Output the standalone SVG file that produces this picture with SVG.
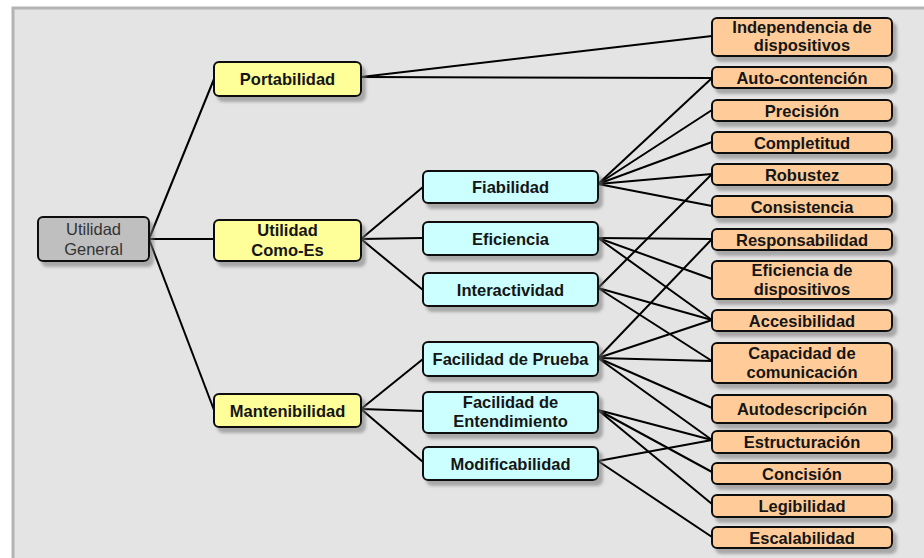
<svg xmlns="http://www.w3.org/2000/svg" width="924" height="558" viewBox="0 0 924 558">
<defs>
<filter id="sh" x="-10%" y="-20%" width="130%" height="160%">
<feDropShadow dx="4" dy="5" stdDeviation="1.5" flood-color="#777" flood-opacity="0.55"/>
</filter>
<style>
.n rect{stroke:#111;stroke-width:2;filter:url(#sh)}
.g rect{fill:#bfbfbf}
.y rect{fill:#ffff99}
.b rect{fill:#ccffff}
.o rect{fill:#ffcc99}
text{font-family:"Liberation Sans",Arial,sans-serif;font-size:16.5px;font-weight:bold;fill:#151515;text-anchor:middle}
.g text{font-weight:normal;font-size:16.5px;fill:#333}
#conn line{stroke:#000;stroke-width:2;fill:none}
</style>
</defs>
<rect x="0" y="0" width="924" height="558" fill="#ffffff"/>
<rect x="13" y="8" width="930" height="570" fill="#e4e4e4" stroke="#b4b4b4" stroke-width="3"/>
<g id="conn">
<line x1="149" y1="239" x2="214" y2="79"/>
<line x1="149" y1="239" x2="214" y2="239"/>
<line x1="149" y1="239" x2="214" y2="410"/>
<line x1="361" y1="77" x2="712" y2="36"/>
<line x1="361" y1="77" x2="712" y2="78"/>
<line x1="361" y1="239" x2="423" y2="187"/>
<line x1="361" y1="239" x2="423" y2="238"/>
<line x1="361" y1="239" x2="423" y2="290"/>
<line x1="361" y1="409" x2="423" y2="359"/>
<line x1="361" y1="409" x2="423" y2="411"/>
<line x1="361" y1="409" x2="423" y2="462"/>
<line x1="598" y1="184" x2="712" y2="78"/>
<line x1="598" y1="184" x2="712" y2="110"/>
<line x1="598" y1="184" x2="712" y2="142"/>
<line x1="598" y1="184" x2="712" y2="174"/>
<line x1="598" y1="184" x2="712" y2="206"/>
<line x1="598" y1="238" x2="712" y2="239"/>
<line x1="598" y1="238" x2="712" y2="279"/>
<line x1="598" y1="238" x2="712" y2="320"/>
<line x1="598" y1="288" x2="712" y2="174"/>
<line x1="598" y1="288" x2="712" y2="320"/>
<line x1="598" y1="288" x2="712" y2="361"/>
<line x1="598" y1="358" x2="712" y2="239"/>
<line x1="598" y1="358" x2="712" y2="320"/>
<line x1="598" y1="358" x2="712" y2="361"/>
<line x1="598" y1="358" x2="712" y2="408"/>
<line x1="598" y1="358" x2="712" y2="440"/>
<line x1="598" y1="410" x2="712" y2="440"/>
<line x1="598" y1="410" x2="712" y2="472"/>
<line x1="598" y1="410" x2="712" y2="504"/>
<line x1="598" y1="461" x2="712" y2="440"/>
<line x1="598" y1="461" x2="712" y2="537"/>
</g>
<g id="utilidad-general" class="n g"><rect x="38" y="217" width="111" height="44" rx="5"/><text x="93.5" y="235">Utilidad</text><text x="93.5" y="255">General</text></g>
<g id="portabilidad" class="n y"><rect x="214" y="62" width="147" height="34" rx="5"/><text x="287.5" y="85">Portabilidad</text></g>
<g id="utilidad-como-es" class="n y"><rect x="214" y="220" width="147" height="41" rx="5"/><text x="287.5" y="236">Utilidad</text><text x="287.5" y="256">Como-Es</text></g>
<g id="mantenibilidad" class="n y"><rect x="214" y="394" width="147" height="33" rx="5"/><text x="287.5" y="416.5">Mantenibilidad</text></g>
<g id="fiabilidad" class="n b"><rect x="423" y="171" width="175" height="32" rx="5"/><text x="510.5" y="193">Fiabilidad</text></g>
<g id="eficiencia" class="n b"><rect x="423" y="222" width="175" height="33" rx="5"/><text x="510.5" y="244.5">Eficiencia</text></g>
<g id="interactividad" class="n b"><rect x="423" y="273" width="175" height="33" rx="5"/><text x="510.5" y="295.5">Interactividad</text></g>
<g id="facilidad-prueba" class="n b"><rect x="423" y="342" width="175" height="34" rx="5"/><text x="510.5" y="365">Facilidad de Prueba</text></g>
<g id="facilidad-entendimiento" class="n b"><rect x="423" y="392" width="175" height="41" rx="5"/><text x="510.5" y="408">Facilidad de</text><text x="510.5" y="427">Entendimiento</text></g>
<g id="modificabilidad" class="n b"><rect x="423" y="447" width="175" height="33" rx="5"/><text x="510.5" y="469.5">Modificabilidad</text></g>
<g id="independencia" class="n o"><rect x="712" y="18" width="180" height="38" rx="5"/><text x="802" y="32.5">Independencia de</text><text x="802" y="50.5">dispositivos</text></g>
<g id="auto-contencion" class="n o"><rect x="712" y="67" width="180" height="21" rx="5"/><text x="802" y="83.5">Auto-contención</text></g>
<g id="precision" class="n o"><rect x="712" y="100" width="180" height="21" rx="5"/><text x="802" y="116.5">Precisión</text></g>
<g id="completitud" class="n o"><rect x="712" y="132" width="180" height="21" rx="5"/><text x="802" y="148.5">Completitud</text></g>
<g id="robustez" class="n o"><rect x="712" y="164" width="180" height="21" rx="5"/><text x="802" y="180.5">Robustez</text></g>
<g id="consistencia" class="n o"><rect x="712" y="196" width="180" height="21" rx="5"/><text x="802" y="212.5">Consistencia</text></g>
<g id="responsabilidad" class="n o"><rect x="712" y="229" width="180" height="21" rx="5"/><text x="802" y="245.5">Responsabilidad</text></g>
<g id="eficiencia-dispositivos" class="n o"><rect x="712" y="261" width="180" height="38" rx="5"/><text x="802" y="276">Eficiencia de</text><text x="802" y="294.5">dispositivos</text></g>
<g id="accesibilidad" class="n o"><rect x="712" y="310" width="180" height="21" rx="5"/><text x="802" y="326.5">Accesibilidad</text></g>
<g id="capacidad-comunicacion" class="n o"><rect x="712" y="343" width="180" height="40" rx="5"/><text x="802" y="359">Capacidad de</text><text x="802" y="377.5">comunicación</text></g>
<g id="autodescripcion" class="n o"><rect x="712" y="395" width="180" height="28" rx="5"/><text x="802" y="414.5">Autodescripción</text></g>
<g id="estructuracion" class="n o"><rect x="712" y="431" width="180" height="22" rx="5"/><text x="802" y="448">Estructuración</text></g>
<g id="concision" class="n o"><rect x="712" y="463" width="180" height="21" rx="5"/><text x="802" y="479.5">Concisión</text></g>
<g id="legibilidad" class="n o"><rect x="712" y="495" width="180" height="22" rx="5"/><text x="802" y="512">Legibilidad</text></g>
<g id="escalabilidad" class="n o"><rect x="712" y="527" width="180" height="21" rx="5"/><text x="802" y="543.5">Escalabilidad</text></g>
</svg>
